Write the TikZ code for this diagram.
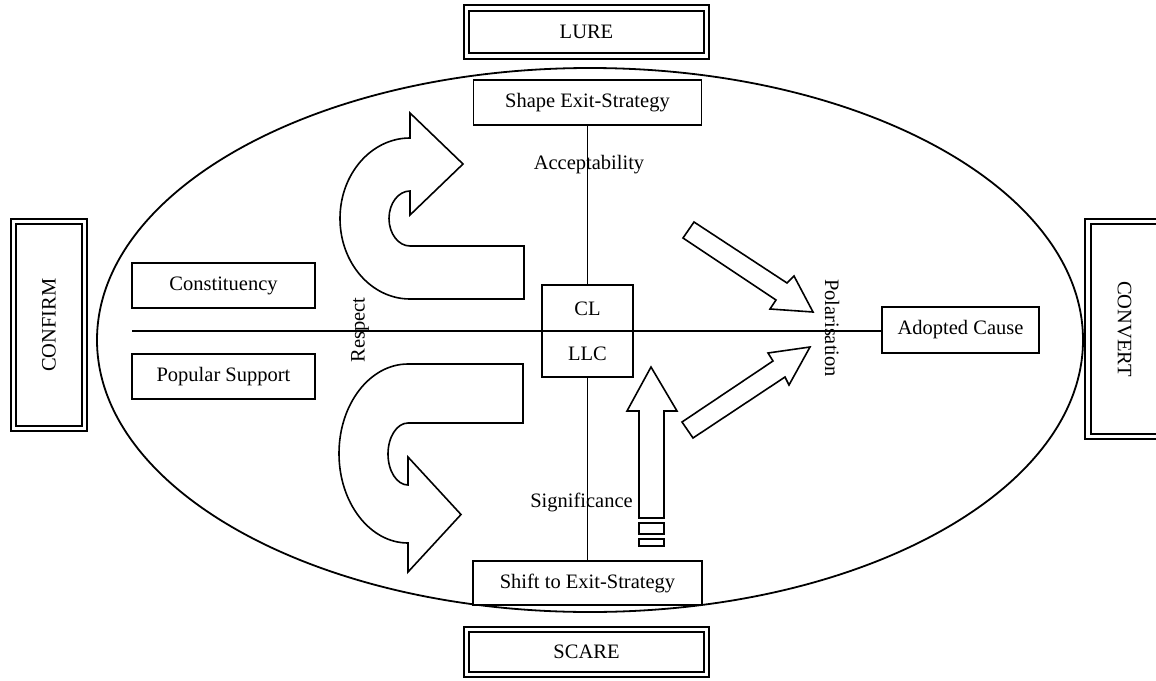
\documentclass[tikz,border=0pt]{standalone}
\usepackage{fontspec}
\setmainfont{Liberation Serif}
\begin{document}
\begin{tikzpicture}[x=1pt, y=-1pt,
  txt/.style={font=\fontsize{20.5}{24}\selectfont, inner sep=0pt},
  plainbox/.style={txt, draw, fill=white, line width=1.7pt},
  dframe/.style={txt, draw, fill=white, double, double distance=3.5pt, line width=2pt},
  rule/.style={line width=1.5pt},
  bigarrow/.style={draw, fill=white, line width=1.6pt, line join=miter}]
\useasboundingbox (0,0) rectangle (1156,680);
\clip (0,0) rectangle (1156,680);

% outer field
\draw[line width=1.8pt] (590,340) ellipse [x radius=493, y radius=272];

% the four strategies around the field
\node[dframe, minimum width=240pt, minimum height=48pt] (lure) at (586.5,32) {LURE};
\node[dframe, minimum width=240pt, minimum height=45pt] (scare) at (586.5,652) {SCARE};
\node[dframe, rotate=90, minimum width=207pt, minimum height=71pt] (confirm) at (49,325) {CONFIRM};
\node[dframe, rotate=-90, minimum width=215pt, minimum height=73pt] (convert) at (1124.5,329) {CONVERT};

% boxes inside the field
\node[plainbox, minimum width=228pt, minimum height=45pt] (shape) at (587.5,102.5) {Shape Exit-Strategy};
\node[plainbox, minimum width=229pt, minimum height=44pt] (shift) at (587.5,583) {Shift to Exit-Strategy};
\node[plainbox, minimum width=183pt, minimum height=45pt] (constituency) at (223.5,285.5) {Constituency};
\node[plainbox, minimum width=183pt, minimum height=45pt] (popular) at (223.5,376.5) {Popular Support};
\node[plainbox, minimum width=91pt, minimum height=92pt] (clbox) at (587.5,331) {};
\node[txt] (cl) at (587.5,309) {CL};
\node[txt] (llc) at (587.5,354) {LLC};
\node[plainbox, minimum width=157pt, minimum height=46pt] (adopted) at (960.5,330) {Adopted Cause};

% axes
\coordinate (hl) at (132,331);
\draw[rule] (shape.south) -- (clbox.north);
\draw[rule] (clbox.south) -- (shift.north);
\draw[rule] (hl) -- (hl -| adopted.west);

% axis labels
\node[txt] (accept) at (589,165) {Acceptability};
\node[txt] (signif) at (581.5,502) {Significance};
\node[txt, rotate=90] (respect) at (360,330) {Respect};
\node[txt, rotate=-90] (polar) at (832,328) {Polarisation};

% U-turn arrow, upper half
\draw[bigarrow] (524,246) -- (524,299) -- (410,299)
  arc[start angle=90, end angle=270, x radius=70, y radius=80.5]
  -- (410,113) -- (463,164) -- (410,215) -- (410,191)
  arc[start angle=270, end angle=90, x radius=21, y radius=27.5]
  -- cycle;

% U-turn arrow, lower half
\draw[bigarrow] (523,423) -- (523,364) -- (408,364)
  arc[start angle=270, end angle=90, x radius=69, y radius=89.5]
  -- (408,572) -- (461,514.5) -- (408,457) -- (408,485)
  arc[start angle=90, end angle=270, x radius=20, y radius=31]
  -- cycle;

% upward arrow with broken tail
\draw[bigarrow] (651,367) -- (677,411) -- (664,411) -- (664,518)
  -- (639,518) -- (639,411) -- (627,411) -- cycle;
\draw[bigarrow] (639,523) rectangle (664,534);
\draw[bigarrow] (639,539) rectangle (664,546);

% diagonal arrows towards polarisation
\draw[bigarrow] (694,222) -- (787,283) -- (794,276) -- (813,312)
  -- (770,309) -- (776,300) -- (683,238) -- cycle;
\draw[bigarrow] (682,422) -- (773,361) -- (768,353) -- (810,347)
  -- (789,385) -- (785,377) -- (693,438) -- cycle;
\end{tikzpicture}
\end{document}
